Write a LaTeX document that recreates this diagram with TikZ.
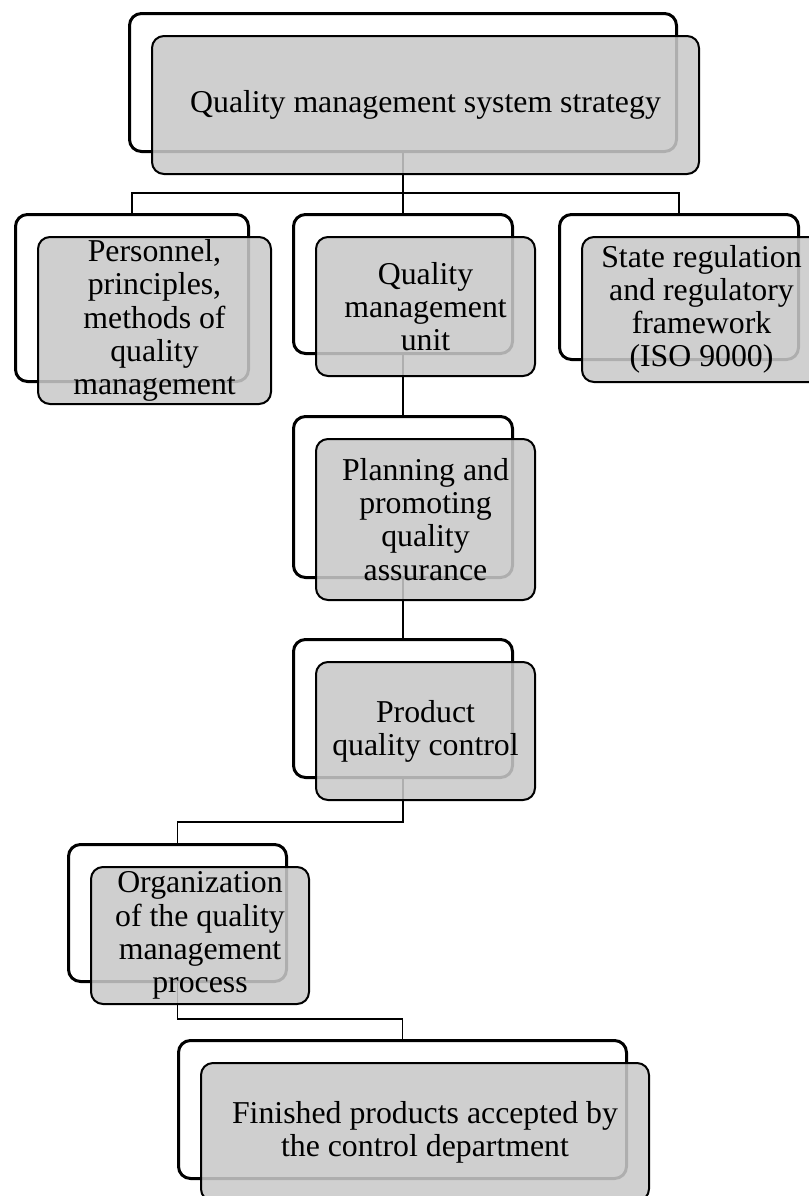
\documentclass[tikz,border=0pt]{standalone}
\usepackage{fontspec}
\setmainfont{Liberation Serif}

\begin{document}
\begin{tikzpicture}[x=0.5pt, y=-0.5pt,
	back/.style={draw, line width=1.5pt, rounded corners=6pt, fill=white, inner sep=0pt},
	front/.style={draw, line width=1pt, rounded corners=6pt, fill=black!21, fill opacity=0.87,
		text opacity=1, inner sep=0pt, align=center, font=\fontsize{15.9}{16.6}\selectfont},
	sz/.style 2 args={minimum width=#1*0.5pt, minimum height=#2*0.5pt},
	link/.style={line width=0.75pt}]

	\useasboundingbox (0,0) rectangle (809,1196);
	\clip (0,0) rectangle (809,1196);

	% outlined boxes behind
	\node[back, sz={547}{138}, anchor=north west] (strategy-bk) at (128,12) {};
	\node[back, sz={233}{167}, anchor=north west] (personnel-bk) at (14,213) {};
	\node[back, sz={219}{139}, anchor=north west] (unit-bk) at (292,213) {};
	\node[back, sz={239}{145}, anchor=north west] (state-bk) at (558,213) {};
	\node[back, sz={219}{161}, anchor=north west] (planning-bk) at (292,415) {};
	\node[back, sz={219}{138}, anchor=north west] (control-bk) at (292,638) {};
	\node[back, sz={218}{137}, anchor=north west] (process-bk) at (67,843) {};
	\node[back, sz={448}{138}, anchor=north west] (finished-bk) at (177,1039) {};

	% connectors
	\draw[link] (strategy-bk.south) |- ([yshift=10pt]personnel-bk.north) -- (personnel-bk.north);
	\draw[link] (strategy-bk.south) -- (unit-bk.north);
	\draw[link] (strategy-bk.south) |- ([yshift=10pt]state-bk.north) -- (state-bk.north);
	\draw[link] (unit-bk.south) -- (planning-bk.north);
	\draw[link] (planning-bk.south) -- (control-bk.north);
	\draw[link] (control-bk.south) |- ([yshift=10.5pt]process-bk.north) -- (process-bk.north);
	\draw[link] (process-bk.south) |- ([yshift=10pt]finished-bk.north) -- (finished-bk.north);

	% grey boxes in front
	\node[front, sz={547}{138}, anchor=north west] (strategy) at ([shift={(23,23)}]strategy-bk.north west)
		{Quality management system strategy};
	\node[front, sz={233}{167}, anchor=north west] (personnel) at ([shift={(23,23)}]personnel-bk.north west)
		{Personnel,\\principles,\\methods of\\quality\\management};
	\node[front, sz={219}{139}, anchor=north west] (unit) at ([shift={(23,23)}]unit-bk.north west)
		{Quality\\management\\unit};
	\node[front, sz={239}{145}, anchor=north west] (state) at ([shift={(23,23)}]state-bk.north west)
		{State regulation\\and regulatory\\framework\\(ISO 9000)};
	\node[front, sz={219}{161}, anchor=north west] (planning) at ([shift={(23,23)}]planning-bk.north west)
		{Planning and\\promoting\\quality\\assurance};
	\node[front, sz={219}{138}, anchor=north west] (control) at ([shift={(23,23)}]control-bk.north west)
		{Product\\quality control};
	\node[front, sz={218}{137}, anchor=north west] (process) at ([shift={(23,23)}]process-bk.north west)
		{Organization\\of the quality\\management\\process};
	\node[front, sz={448}{138}, anchor=north west] (finished) at ([shift={(23,23)}]finished-bk.north west)
		{Finished products accepted by\\the control department};

\end{tikzpicture}
\end{document}
